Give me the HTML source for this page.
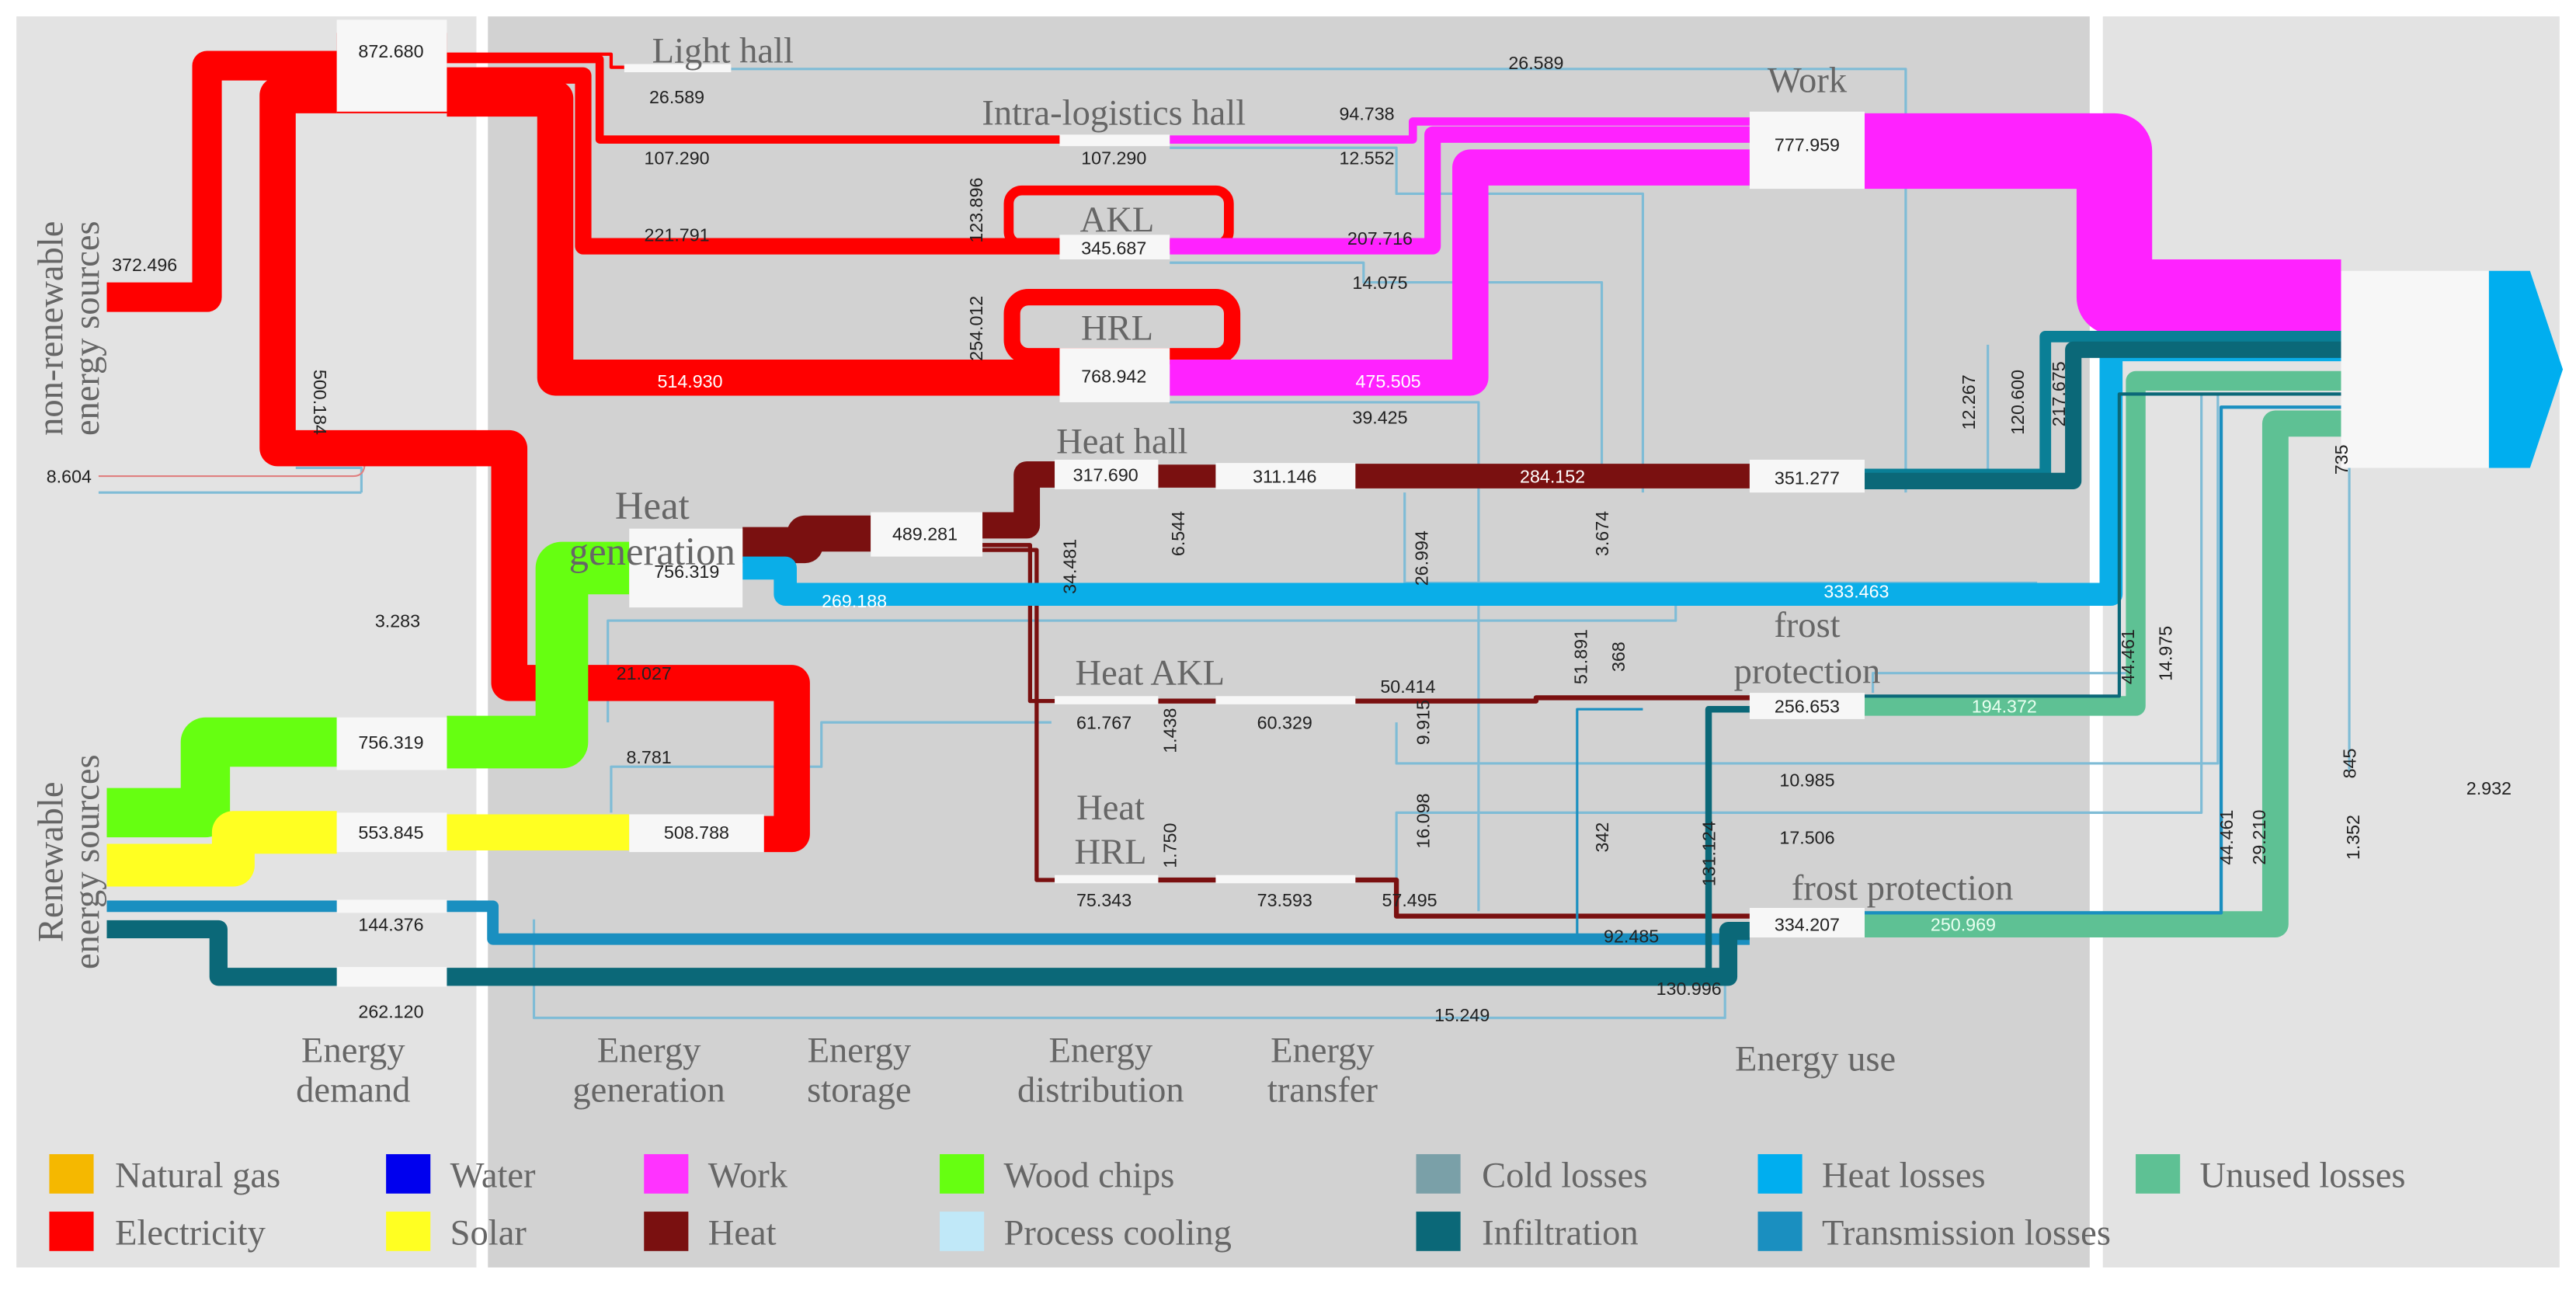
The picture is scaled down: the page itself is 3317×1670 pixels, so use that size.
<!DOCTYPE html>
<html><head><meta charset="utf-8"><style>
html,body{margin:0;padding:0;background:#fff;}
svg{display:block;}
.n{font-family:"Liberation Sans Narrow","Liberation Sans",sans-serif;font-size:11px;fill:#222;text-anchor:middle;}
.w{fill:#fff;}
.t{font-family:"Liberation Serif",serif;font-size:22px;fill:#666;text-anchor:middle;}
.lg{font-family:"Liberation Serif",serif;font-size:22px;fill:#666;}
.f{fill:none;stroke-linejoin:round;}
</style></head><body>
<svg width="3317" height="1670" viewBox="0 0 1568 790" preserveAspectRatio="none" xmlns="http://www.w3.org/2000/svg">
<rect x="0" y="0" width="1568" height="790" fill="#fff"/>
<rect x="10" y="10" width="280" height="762" fill="#e3e3e3"/>
<rect x="297" y="10" width="975" height="762" fill="#d2d2d2"/>
<rect x="1280" y="10" width="278" height="762" fill="#e3e3e3"/>

<!-- thin light blue lines -->
<g class="f" stroke="#7fbcd6" stroke-width="1.5">
<path d="M445 42 H1160 V300"/>
<path d="M712 90 H850 V118 H1000 V300"/>
<path d="M712 160 H830 V172 H975 V290"/>
<path d="M712 245 H900 V555"/>
<path d="M370 440 V378 H1020 V360"/>
<path d="M372 495 V467 H500 V440 H640"/>
<path d="M325 560 V620 H1050 V575"/>
<path d="M850 440 V465 H1350 V240"/>
<path d="M850 535 V495 H1340 V240"/>
<path d="M855 300 V355 H1240"/>
<path d="M1210 210 V290"/>
<path d="M1140 422 V410 H1300 V250"/>
<path d="M1430 250 V470"/>
<path d="M220 300 V285 H180"/>
<path d="M60 300 H220"/>
</g>
<path class="f" stroke="#e08080" stroke-width="1" d="M60 290 H215 Q222 290 222 282 V270"/>

<!-- red flows -->
<g class="f" stroke="#ff0000">
<path d="M65 181 H126 V40 H205" stroke-width="18"/>
<path d="M205 58 H169 V273 H310 V416 H482 V508 H465" stroke-width="22"/>
<path d="M272 36 H365 V85 H645" stroke-width="5"/>
<path d="M272 46 H355 V150 H645" stroke-width="10"/>
<path d="M272 60 H338 V230 H645" stroke-width="22"/>
<path d="M272 33 H372 V41 H380" stroke-width="2"/>
<rect x="614" y="116" width="134" height="33" rx="8" stroke-width="6"/>
<rect x="616" y="181" width="134" height="36" rx="10" stroke-width="10"/>
</g>
<rect x="205" y="20" width="67" height="49" fill="#ff0000"/>

<!-- magenta -->
<g class="f" stroke="#ff22ff">
<path d="M712 85 H860 V74 H1065" stroke-width="5"/>
<path d="M712 150 H872 V82 H1065" stroke-width="10"/>
<path d="M712 230 H895 V102 H1065" stroke-width="22"/>
<path d="M1135 92 H1287 V181 H1425" stroke-width="46"/>
</g>

<!-- green / yellow -->
<g class="f">
<path d="M65 495 H125 V452 H205" stroke="#66ff11" stroke-width="30"/>
<path d="M272 452 H342 V346 H383" stroke="#66ff11" stroke-width="32"/>
<path d="M65 527 H142 V507 H205" stroke="#ffff22" stroke-width="26"/>
<path d="M272 507 H383" stroke="#ffff22" stroke-width="22"/>
</g>

<!-- heat -->
<g class="f" stroke="#7a1010">
<path d="M452 332 H490 V325 H530" stroke-width="22"/>
<path d="M598 320 H625 V289 H642" stroke-width="16"/>
<path d="M705 290 H740" stroke-width="14"/>
<path d="M825 290 H1065" stroke-width="15"/>
<path d="M598 332 H627 V427 H642" stroke-width="2.5"/>
<path d="M598 335 H631 V536 H642" stroke-width="2.5"/>
<path d="M705 427 H740 M825 427 H935 V425 H1065" stroke-width="3"/>
<path d="M705 536 H740 M825 536 H850 V558 H1065" stroke-width="3"/>
</g>

<!-- blue / teal / unused -->
<g class="f">
<path d="M452 346 H478 V362 H1285 V213 H1425" stroke="#0aaee8" stroke-width="14"/>
<path d="M1135 289 H1245 V205 H1425" stroke="#0a7f96" stroke-width="7"/>
<path d="M1135 293 H1262 V213 H1425" stroke="#0b6878" stroke-width="10"/>
<path d="M1135 430 H1300 V232 H1425" stroke="#5ec194" stroke-width="12"/>
<path d="M1135 563 H1385 V258 H1425" stroke="#5ec194" stroke-width="16"/>
<path d="M1135 424 H1290 V240 H1425" stroke="#0b6878" stroke-width="2"/>
<path d="M1135 556 H1352 V248 H1425" stroke="#1a8fc0" stroke-width="2"/>
<path d="M65 552 H300 V572 H1065" stroke="#1a8fc0" stroke-width="7"/>
<path d="M65 566 H133 V595 H1052 V567 H1065" stroke="#0b6878" stroke-width="11"/>
<path d="M1040 595 V432 H1065" stroke="#0b6878" stroke-width="4"/>
<path d="M960 572 V432 H1000" stroke="#1a8fc0" stroke-width="1.5"/>
</g>

<!-- final node -->
<rect x="1425" y="165" width="90" height="120" fill="#f7f7f7"/>
<polygon points="1515,165 1540,165 1560,225 1540,285 1515,285" fill="#00aeef"/>

<!-- white node boxes -->
<g fill="#f7f7f7">
<rect x="205" y="12" width="67" height="56"/>
<rect x="380" y="39" width="65" height="5"/>
<rect x="645" y="82" width="67" height="7"/>
<rect x="645" y="143" width="67" height="15"/>
<rect x="645" y="212" width="67" height="33"/>
<rect x="1065" y="68" width="70" height="47"/>
<rect x="383" y="322" width="69" height="48"/>
<rect x="530" y="312" width="68" height="27"/>
<rect x="642" y="280" width="63" height="18"/>
<rect x="740" y="282" width="85" height="16"/>
<rect x="1065" y="280" width="70" height="20"/>
<rect x="642" y="424" width="63" height="5"/>
<rect x="740" y="424" width="85" height="5"/>
<rect x="642" y="533" width="63" height="5"/>
<rect x="740" y="533" width="85" height="5"/>
<rect x="1065" y="422" width="70" height="16"/>
<rect x="1065" y="553" width="70" height="18"/>
<rect x="205" y="437" width="67" height="32"/>
<rect x="205" y="495" width="67" height="24"/>
<rect x="383" y="496" width="82" height="23"/>
<rect x="205" y="548" width="67" height="8"/>
<rect x="205" y="589" width="67" height="12"/>
</g>

<!-- numbers -->
<g class="n">
<text x="238" y="35">872.680</text>
<text x="412" y="63">26.589</text>
<text x="412" y="100">107.290</text>
<text x="412" y="147">221.791</text>
<text x="420" y="236" class="n w">514.930</text>
<text x="88" y="165">372.496</text>
<text x="42" y="294">8.604</text>
<text x="242" y="382">3.283</text>
<text x="238" y="456">756.319</text>
<text x="238" y="511">553.845</text>
<text x="238" y="567">144.376</text>
<text x="238" y="620">262.120</text>
<text x="392" y="414">21.027</text>
<text x="395" y="465">8.781</text>
<text x="424" y="511">508.788</text>
<text x="418" y="352">756.319</text>
<text x="563" y="329">489.281</text>
<text x="673" y="293">317.690</text>
<text x="782" y="294">311.146</text>
<text x="945" y="294" class="n w">284.152</text>
<text x="1100" y="295">351.277</text>
<text x="520" y="370" class="n w">269.188</text>
<text x="1130" y="364" class="n w">333.463</text>
<text x="678" y="100">107.290</text>
<text x="678" y="155">345.687</text>
<text x="678" y="233">768.942</text>
<text x="832" y="73">94.738</text>
<text x="832" y="100">12.552</text>
<text x="840" y="149">207.716</text>
<text x="840" y="176">14.075</text>
<text x="845" y="236" class="n w">475.505</text>
<text x="840" y="258">39.425</text>
<text x="935" y="42">26.589</text>
<text x="1100" y="92">777.959</text>
<text x="857" y="422">50.414</text>
<text x="672" y="444">61.767</text>
<text x="782" y="444">60.329</text>
<text x="1100" y="434">256.653</text>
<text x="1220" y="434" style="fill:#e8fff0">194.372</text>
<text x="1100" y="479">10.985</text>
<text x="1100" y="514">17.506</text>
<text x="1515" y="484">2.932</text>
<text x="672" y="552">75.343</text>
<text x="782" y="552">73.593</text>
<text x="858" y="552">57.495</text>
<text x="993" y="574">92.485</text>
<text x="1100" y="567">334.207</text>
<text x="1195" y="567" style="fill:#e8fff0">250.969</text>
<text x="1028" y="606">130.996</text>
<text x="890" y="622">15.249</text>
</g>
<g class="n">
<text transform="translate(191,245) rotate(90)">500.184</text>
<text transform="translate(598,128) rotate(-90)">123.896</text>
<text transform="translate(598,200) rotate(-90)">254.012</text>
<text transform="translate(655,345) rotate(-90)">34.481</text>
<text transform="translate(721,325) rotate(-90)">6.544</text>
<text transform="translate(869,340) rotate(-90)">26.994</text>
<text transform="translate(979,325) rotate(-90)">3.674</text>
<text transform="translate(1202,245) rotate(-90)">12.267</text>
<text transform="translate(1232,245) rotate(-90)">120.600</text>
<text transform="translate(1257,240) rotate(-90)">217.675</text>
<text transform="translate(1429,280) rotate(-90)">735</text>
<text transform="translate(1299,400) rotate(-90)">44.461</text>
<text transform="translate(1322,398) rotate(-90)">14.975</text>
<text transform="translate(716,445) rotate(-90)">1.438</text>
<text transform="translate(870,440) rotate(-90)">9.915</text>
<text transform="translate(966,400) rotate(-90)">51.891</text>
<text transform="translate(989,400) rotate(-90)">368</text>
<text transform="translate(1434,465) rotate(-90)">845</text>
<text transform="translate(1436,510) rotate(-90)">1.352</text>
<text transform="translate(716,515) rotate(-90)">1.750</text>
<text transform="translate(870,500) rotate(-90)">16.098</text>
<text transform="translate(979,510) rotate(-90)">342</text>
<text transform="translate(1044,520) rotate(-90)">131.124</text>
<text transform="translate(1359,510) rotate(-90)">44.461</text>
<text transform="translate(1379,510) rotate(-90)">29.210</text>
</g>

<!-- titles -->
<g class="t">
<text x="440" y="38">Light hall</text>
<text x="678" y="76">Intra-logistics hall</text>
<text x="680" y="141">AKL</text>
<text x="680" y="207">HRL</text>
<text x="683" y="276">Heat hall</text>
<text x="397" y="316" style="font-size:24px">Heat</text>
<text x="397" y="344" style="font-size:24px">generation</text>
<text x="700" y="417">Heat AKL</text>
<text x="676" y="499">Heat</text>
<text x="676" y="526">HRL</text>
<text x="1100" y="56">Work</text>
<text x="1100" y="388">frost</text>
<text x="1100" y="416">protection</text>
<text x="1158" y="548">frost protection</text>
<text x="215" y="647">Energy</text>
<text x="215" y="671">demand</text>
<text x="395" y="647">Energy</text>
<text x="395" y="671">generation</text>
<text x="523" y="647">Energy</text>
<text x="523" y="671">storage</text>
<text x="670" y="647">Energy</text>
<text x="670" y="671">distribution</text>
<text x="805" y="647">Energy</text>
<text x="805" y="671">transfer</text>
<text x="1105" y="652">Energy use</text>
<text transform="translate(38,200) rotate(-90)">non-renewable</text>
<text transform="translate(60,200) rotate(-90)">energy sources</text>
<text transform="translate(38,525) rotate(-90)">Renewable</text>
<text transform="translate(60,525) rotate(-90)">energy sources</text>
</g>

<!-- legend -->
<g>
<rect x="30" y="703" width="27" height="24" fill="#f5b800"/><text class="lg" x="70" y="723">Natural gas</text>
<rect x="235" y="703" width="27" height="24" fill="#0000ee"/><text class="lg" x="274" y="723">Water</text>
<rect x="392" y="703" width="27" height="24" fill="#ff33ff"/><text class="lg" x="431" y="723">Work</text>
<rect x="572" y="703" width="27" height="24" fill="#66ff11"/><text class="lg" x="611" y="723">Wood chips</text>
<rect x="862" y="703" width="27" height="24" fill="#7aa0a8"/><text class="lg" x="902" y="723">Cold losses</text>
<rect x="1070" y="703" width="27" height="24" fill="#00aeef"/><text class="lg" x="1109" y="723">Heat losses</text>
<rect x="1300" y="703" width="27" height="24" fill="#5ec194"/><text class="lg" x="1339" y="723">Unused losses</text>
<rect x="30" y="738" width="27" height="24" fill="#ff0000"/><text class="lg" x="70" y="758">Electricity</text>
<rect x="235" y="738" width="27" height="24" fill="#ffff22"/><text class="lg" x="274" y="758">Solar</text>
<rect x="392" y="738" width="27" height="24" fill="#7a1010"/><text class="lg" x="431" y="758">Heat</text>
<rect x="572" y="738" width="27" height="24" fill="#c0e8f8"/><text class="lg" x="611" y="758">Process cooling</text>
<rect x="862" y="738" width="27" height="24" fill="#0b6878"/><text class="lg" x="902" y="758">Infiltration</text>
<rect x="1070" y="738" width="27" height="24" fill="#1a8fc0"/><text class="lg" x="1109" y="758">Transmission losses</text>
</g>
</svg>
</body></html>
